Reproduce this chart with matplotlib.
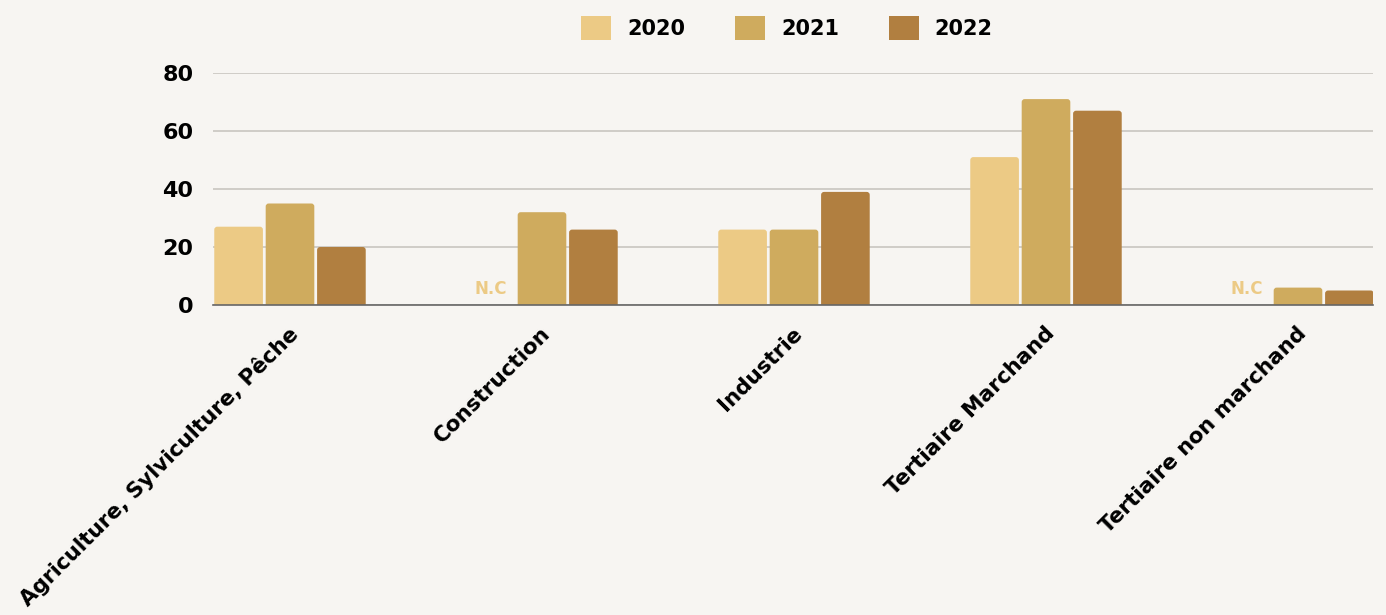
import matplotlib
matplotlib.use("Agg")
import matplotlib.pyplot as plt
from matplotlib.patches import FancyBboxPatch, Patch
import matplotlib.transforms as mtransforms
import numpy as np

categories = ["Agriculture, Sylviculture, Pêche", "Construction", "Industrie",
              "Tertiaire Marchand", "Tertiaire non marchand"]
years = ["2020", "2021", "2022"]
v2020 = [27, None, 26, 51, None]
v2021 = [35, 32, 26, 71, 6]
v2022 = [20, 26, 39, 67, 5]
series = [v2020, v2021, v2022]
colors = ["#ecca85", "#cfab5e", "#b17f40"]
yticks = [0, 20, 40, 60, 80]
nc_label = "N.C"

FONT = "DejaVu Sans"
BG = "#f7f5f2"

fig = plt.figure(figsize=(13.86, 6.15), dpi=100, facecolor=BG)
ax = fig.add_axes([213/1386, 1-305/615, (1373-213)/1386, (305-73)/615])
ax.set_facecolor("none")

x = np.arange(len(categories))
offs = [-0.204, 0.0, 0.204]
w = 0.193
ymin, ymax = 0, 80
ax.set_xlim((213-290)/252, (1373-290)/252)
ax.set_ylim(ymin, ymax)

px_x = 1/252
px_y = 80/232
r = 3  # px
for si, (vals, col) in enumerate(zip(series, colors)):
    for ci, v in enumerate(vals):
        xc = x[ci] + offs[si]
        if v is None:
            ax.text(xc, 2.3, nc_label, ha="center", va="bottom", color=colors[0],
                    fontsize=12, fontweight="bold", family=FONT)
            continue
        p = FancyBboxPatch((xc - w/2, -2), w, v + 2,
                           boxstyle=f"round,pad=0,rounding_size={r*px_x}",
                           mutation_aspect=px_y/px_x,
                           facecolor=col, edgecolor="none", zorder=3)
        ax.add_patch(p)

ax.set_yticks(yticks)
ax.set_yticklabels([str(t) for t in yticks], fontsize=16, fontweight="bold", family=FONT)
ax.tick_params(axis="y", length=0, pad=14)
ax.grid(axis="y", color="#c9c5c0", linewidth=1.2, zorder=0)
ax.set_axisbelow(True)
for s in ["top", "right", "left"]:
    ax.spines[s].set_visible(False)
ax.spines["bottom"].set_color("#666666")
ax.spines["bottom"].set_linewidth(1.2)
ax.spines["bottom"].set_zorder(4)

ax.set_xticks(x)
ax.set_xticklabels(categories, rotation=45, ha="right", rotation_mode="anchor",
                   fontsize=15.5, fontweight="bold", family=FONT)
ax.tick_params(axis="x", length=0, pad=13)
for lbl in ax.get_xticklabels():
    lbl.set_transform(lbl.get_transform() + mtransforms.ScaledTranslation(-2/100, 0, fig.dpi_scale_trans))

handles = [Patch(facecolor=c, edgecolor="none", label=y) for c, y in zip(colors, years)]
leg = fig.legend(handles=handles, loc="center", bbox_to_anchor=(787/1386, 1-28/615),
                 ncol=3, frameon=False, prop={"family": FONT, "weight": "bold", "size": 15},
                 handlelength=1.45, handleheight=1.45, handletextpad=0.75, columnspacing=2.4)

fig.savefig("out.png", dpi=100, facecolor=BG)
